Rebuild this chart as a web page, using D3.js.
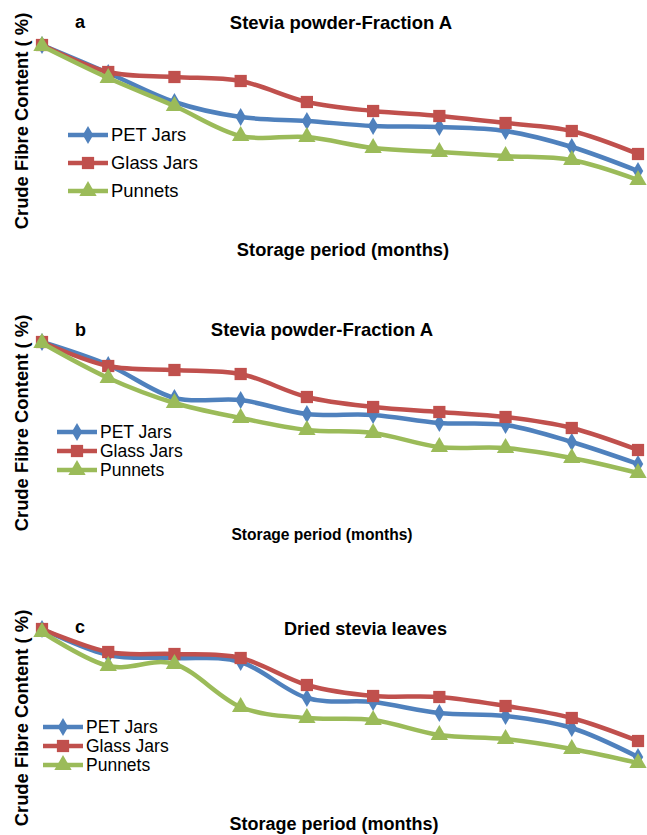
<!DOCTYPE html>
<html>
<head>
<meta charset="utf-8">
<script src="https://cdn.jsdelivr.net/npm/d3@7"></script>
<style>
  html, body { margin: 0; padding: 0; background: #fff; }
  svg { display: block; }
  text { font-family: "Liberation Sans", Arial, sans-serif; fill: #000; }
</style>
</head>
<body>
<svg id="chart" width="647" height="835"></svg>
<script>
// Storage period: ten monthly sampling points
const months = [0, 1, 2, 3, 4, 5, 6, 7, 8, 9];
const seriesNames = ["PET Jars", "Glass Jars", "Punnets"];

// Crude fibre content (%) — panel a: Stevia powder, Fraction A
const petA     = [16.0, 13.2, 10.3, 8.8, 8.4, 7.9, 7.8, 7.4, 5.8, 3.4];
const glassA   = [16.0, 13.3, 12.8, 12.4, 10.3, 9.4, 8.9, 8.2, 7.4, 5.1];
const punnetA  = [15.9, 12.7, 9.9, 6.9, 6.8, 5.7, 5.3, 4.9, 4.5, 2.5];

// Panel b: Stevia powder, Fraction A
const petB     = [16.0, 13.7, 10.4, 10.2, 8.8, 8.7, 7.9, 7.7, 6.0, 3.8];
const glassB   = [16.0, 13.6, 13.2, 12.8, 10.5, 9.5, 9.0, 8.5, 7.4, 5.2];
const punnetB  = [15.9, 12.4, 9.9, 8.4, 7.2, 6.9, 5.5, 5.4, 4.4, 2.9];

// Panel c: Dried stevia leaves
const petC     = [16.0, 13.4, 13.1, 12.7, 9.1, 8.7, 7.6, 7.3, 6.1, 3.2];
const glassC   = [16.0, 13.7, 13.5, 13.1, 10.4, 9.3, 9.2, 8.3, 7.1, 4.8];
const punnetC  = [15.7, 12.3, 12.5, 8.2, 7.1, 6.9, 5.4, 5.0, 4.0, 2.6];

const panelLetters = ["a", "b", "c"];
const panelTitles = ["Stevia powder-Fraction A", "Stevia powder-Fraction A", "Dried stevia leaves"];
const yAxisTitle = "Crude Fibre Content ( %)";
const xAxisTitle = "Storage period (months)";

const colors = ["#4F81BD", "#C0504D", "#9BBB59"];
const symbols = [d3.symbolDiamond, d3.symbolSquare, d3.symbolTriangle];
const symbolSizes = [95, 150, 130];

const svg = d3.select("#chart");

const x = d3.scalePoint().domain(months).range([42, 638]);

const panels = [
  { data: [petA, glassA, punnetA], base: 205,
    letter: [75, 28], title: [341, 29, 18.5], xlab: [343, 256, 18.3], ylab: 121,
    legend: { x: 68, rows: [135, 163, 191], size: 18.4 } },
  { data: [petB, glassB, punnetB], base: 502,
    letter: [75, 336], title: [322, 336, 18.5], xlab: [322, 540, 15.6], ylab: 423,
    legend: { x: 57, rows: [432, 451, 470], size: 17.5 } },
  { data: [petC, glassC, punnetC], base: 789,
    letter: [75, 633], title: [365.5, 635, 18.1], xlab: [334, 830, 18.0], ylab: 718,
    legend: { x: 43, rows: [727, 746, 765], size: 17.5 } }
];

panels.forEach((p, pi) => {
  const g = svg.append("g");
  const y = d3.scaleLinear().domain([0, 16]).range([p.base, p.base - 160]);

  // panel letter and title
  g.append("text").attr("x", p.letter[0]).attr("y", p.letter[1])
    .style("font-weight", "bold").style("font-size", "18px").text(panelLetters[pi]);
  g.append("text").attr("x", p.title[0]).attr("y", p.title[1])
    .attr("text-anchor", "middle").style("font-weight", "bold")
    .style("font-size", p.title[2] + "px").text(panelTitles[pi]);

  // axis titles
  g.append("text").attr("x", p.xlab[0]).attr("y", p.xlab[1])
    .attr("text-anchor", "middle").style("font-weight", "bold")
    .style("font-size", p.xlab[2] + "px").text(xAxisTitle);
  g.append("text").attr("transform", `translate(28,${p.ylab}) rotate(-90)`)
    .attr("text-anchor", "middle").style("font-weight", "bold")
    .style("font-size", "18.4px").text(yAxisTitle);

  const line = d3.line()
    .x((d, i) => x(months[i]))
    .y(d => y(d))
    .curve(d3.curveCatmullRom.alpha(0));

  // series: smoothed line plus markers
  p.data.forEach((vals, si) => {
    const sg = g.append("g");
    sg.append("path").datum(vals).attr("d", line)
      .attr("fill", "none").attr("stroke", colors[si])
      .attr("stroke-width", 4.5).attr("stroke-linejoin", "round").attr("stroke-linecap", "round");
    sg.selectAll("path.m").data(vals).join("path").attr("class", "m")
      .attr("transform", (d, i) => `translate(${x(months[i])},${y(d)})`)
      .attr("d", d3.symbol().type(symbols[si]).size(symbolSizes[si]))
      .attr("fill", colors[si]);
  });

  // legend
  const lg = g.append("g");
  seriesNames.forEach((name, si) => {
    const ry = p.legend.rows[si];
    const lx = p.legend.x;
    lg.append("line").attr("x1", lx).attr("x2", lx + 40).attr("y1", ry).attr("y2", ry)
      .attr("stroke", colors[si]).attr("stroke-width", 4.5);
    lg.append("path").attr("transform", `translate(${lx + 20},${ry})`)
      .attr("d", d3.symbol().type(symbols[si]).size(symbolSizes[si]))
      .attr("fill", colors[si]);
    lg.append("text").attr("x", lx + 43).attr("y", ry + 6.3)
      .style("font-size", p.legend.size + "px").text(name);
  });
});
</script>
</body>
</html>
